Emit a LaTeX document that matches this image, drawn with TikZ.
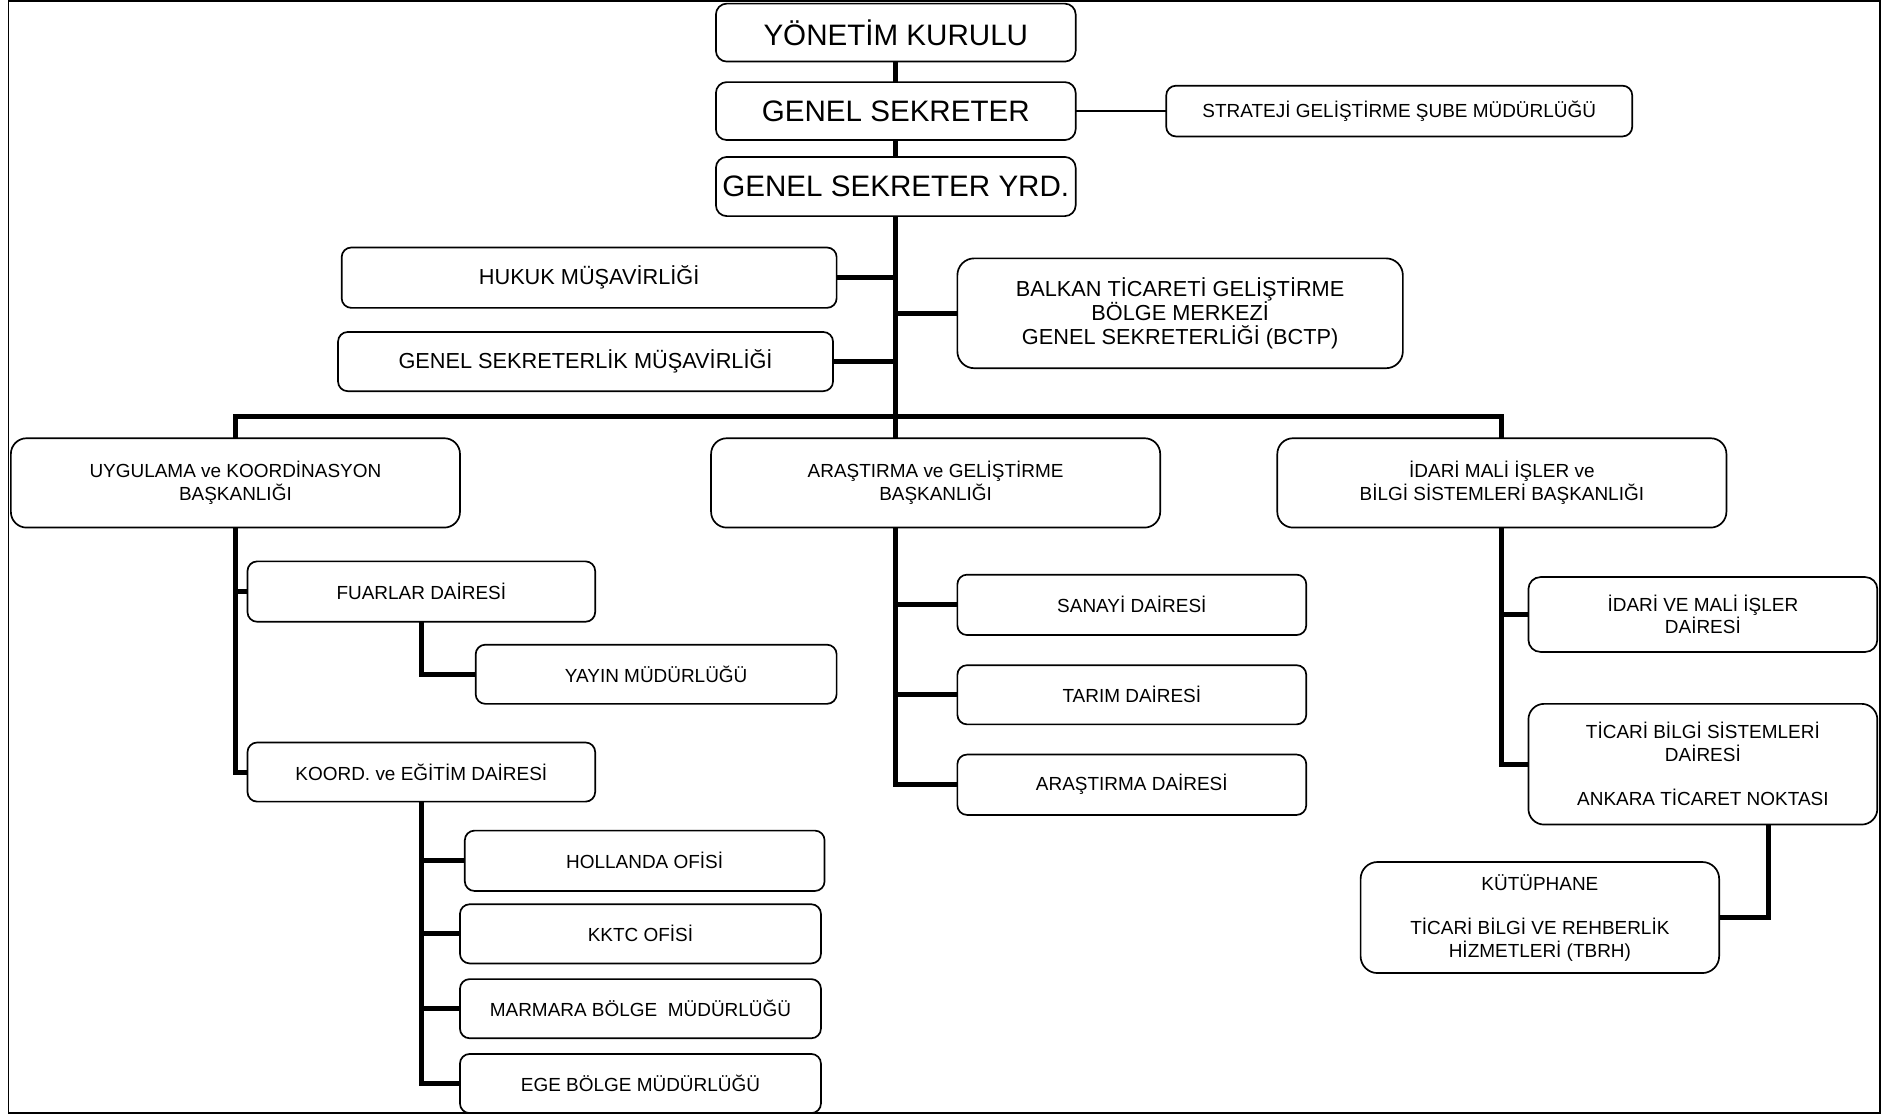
\documentclass[tikz,border=0pt]{standalone}
\usepackage{fontspec}
\setmainfont{Liberation Sans}
\newcommand\fbig{\fontsize{24.5}{29}\selectfont}
\newcommand\fmid{\fontsize{18}{20}\selectfont}
\newcommand\fsml{\fontsize{15.7}{18.5}\selectfont}
\begin{document}
\begin{tikzpicture}[x=1pt,y=-1pt,
  box/.style={draw,line width=1.4pt,rounded corners=8pt,inner sep=0pt,outer sep=0pt,align=center,font=\fsml},
  conn/.style={line width=4.2pt},
  thinconn/.style={line width=1.2pt}]
\useasboundingbox (0,0) rectangle (1568,924);
\draw[line width=1.5pt] (7,1) rectangle (1557,922);

% top
\node[box,font=\fbig,rounded corners=9pt,minimum width=298pt,minimum height=48pt] (yk) at (742,27) {YÖNETİM KURULU};
\node[box,font=\fbig,rounded corners=9pt,minimum width=298pt,minimum height=48pt] (gs) at (742,92) {GENEL SEKRETER};
\node[box,font=\fbig,rounded corners=9pt,minimum width=298pt,minimum height=49pt] (gsy) at (742,154.5) {GENEL SEKRETER YRD.};
\node[box,minimum width=386pt,minimum height=42pt] (str) at (1159,92) {STRATEJİ GELİŞTİRME ŞUBE MÜDÜRLÜĞÜ};

% advisors
\node[box,font=\fmid,minimum width=410pt,minimum height=50pt] (hukuk) at (488,230) {HUKUK MÜŞAVİRLİĞİ};
\node[box,font=\fmid,minimum width=410pt,minimum height=49pt] (gsm) at (485,299.5) {GENEL SEKRETERLİK MÜŞAVİRLİĞİ};
\node[box,font=\fmid,rounded corners=14pt,minimum width=369pt,minimum height=91pt] (balkan) at (977.5,259.5) {BALKAN TİCARETİ GELİŞTİRME\\BÖLGE MERKEZİ\\GENEL SEKRETERLİĞİ (BCTP)};

% presidencies
\node[box,rounded corners=13pt,minimum width=372pt,minimum height=74pt] (uyg) at (195,400) {UYGULAMA ve KOORDİNASYON\\BAŞKANLIĞI};
\node[box,rounded corners=13pt,minimum width=372pt,minimum height=74pt] (arge) at (775,400) {ARAŞTIRMA ve GELİŞTİRME\\BAŞKANLIĞI};
\node[box,rounded corners=13pt,minimum width=372pt,minimum height=74pt] (idb) at (1244,400) {İDARİ MALİ İŞLER ve\\BİLGİ SİSTEMLERİ BAŞKANLIĞI};

% left branch
\node[box,minimum width=288pt,minimum height=50pt] (fuar) at (349,490) {FUARLAR DAİRESİ};
\node[box,minimum width=299pt,minimum height=49pt] (yayin) at (543.5,558.5) {YAYIN MÜDÜRLÜĞÜ};
\node[box,minimum width=288pt,minimum height=49pt] (koord) at (349,639.5) {KOORD. ve EĞİTİM DAİRESİ};
\node[box,minimum width=298pt,minimum height=50pt] (hol) at (534,713) {HOLLANDA OFİSİ};
\node[box,minimum width=299pt,minimum height=49pt] (kktc) at (530.5,773.5) {KKTC OFİSİ};
\node[box,minimum width=299pt,minimum height=49pt] (marm) at (530.5,835.5) {MARMARA BÖLGE\ \ MÜDÜRLÜĞÜ};
\node[box,minimum width=299pt,minimum height=49pt] (ege) at (530.5,897.5) {EGE BÖLGE MÜDÜRLÜĞÜ};

% middle branch
\node[box,minimum width=289pt,minimum height=50pt] (san) at (937.5,501) {SANAYİ DAİRESİ};
\node[box,minimum width=289pt,minimum height=49pt] (tar) at (937.5,575.5) {TARIM DAİRESİ};
\node[box,minimum width=289pt,minimum height=50pt] (ars) at (937.5,650) {ARAŞTIRMA DAİRESİ};

% right branch
\node[box,rounded corners=10pt,minimum width=289pt,minimum height=62pt] (idm) at (1410.5,509) {İDARİ VE MALİ İŞLER\\DAİRESİ};
\node[box,rounded corners=13pt,minimum width=289pt,minimum height=100pt] (tbs) at (1410.5,633) {TİCARİ BİLGİ SİSTEMLERİ\\DAİRESİ\\[18.5pt]ANKARA TİCARET NOKTASI};
\node[box,rounded corners=14pt,minimum width=297pt,minimum height=92pt] (kut) at (1275.5,760) {KÜTÜPHANE\\[18.5pt]TİCARİ BİLGİ VE REHBERLİK\\HİZMETLERİ (TBRH)};

% connectors
\draw[conn] (yk.south) -- (gs.north);
\draw[conn] (gs.south) -- (gsy.north);
\draw[thinconn] (gs.east) -- (str.west);
\draw[conn] (gsy.south) -- (gsy.south |- arge.north);
\draw[conn] (hukuk.east) -- (hukuk.east -| gsy.south);
\draw[conn] (gsm.east) -- (gsm.east -| gsy.south);
\draw[conn] (balkan.west) -- (balkan.west -| gsy.south);
\coordinate (bus) at (742,345);
\draw[conn] (uyg.north) |- (bus) -| (idb.north);

\draw[conn] (uyg.south) |- (koord.west);
\draw[conn] (uyg.south |- fuar.west) -- (fuar.west);
\draw[conn] (fuar.south) |- (yayin.west);
\draw[conn] (koord.south) |- (ege.west);
\draw[conn] (koord.south |- hol.west) -- (hol.west);
\draw[conn] (koord.south |- kktc.west) -- (kktc.west);
\draw[conn] (koord.south |- marm.west) -- (marm.west);

\coordinate (ag) at (arge.south -| gsy.south);
\draw[conn] (ag) |- (ars.west);
\draw[conn] (ag |- san.west) -- (san.west);
\draw[conn] (ag |- tar.west) -- (tar.west);

\draw[conn] (idb.south) |- (tbs.west);
\draw[conn] (idb.south |- idm.west) -- (idm.west);
\coordinate (tk) at (1465,683);
\draw[conn] (tk) |- (kut.east);
\end{tikzpicture}
\end{document}
